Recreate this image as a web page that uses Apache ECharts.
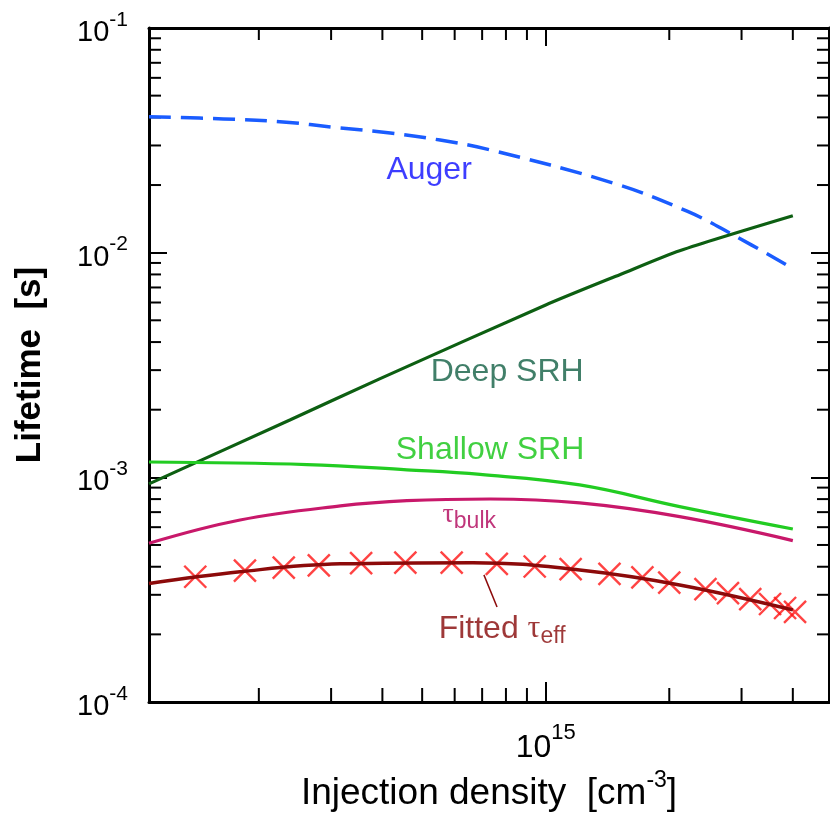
<!DOCTYPE html>
<html>
<head>
<meta charset="utf-8">
<title>Lifetime vs injection density</title>
<script src="https://cdn.jsdelivr.net/npm/echarts@6.0.0/dist/echarts.min.js"></script>
<style>
  html, body { margin: 0; padding: 0; background: #fff; }
  #chart { width: 830px; height: 817px; }
</style>
</head>
<body>
<div id="chart"></div>
<script>
// axis ranges
const X_MIN = 1.08e14, X_MAX = 4.9e15;
const Y_MIN = 1e-4, Y_MAX = 1e-1;

// minor tick values (drawn through the axis scales)
const xMinorTicks = [2e14, 3e14, 4e14, 5e14, 6e14, 7e14, 8e14, 9e14, 2e15, 3e15, 4e15];
const yMinorTicks = [
  2e-4, 3e-4, 4e-4, 5e-4, 6e-4, 7e-4, 8e-4, 9e-4,
  2e-3, 3e-3, 4e-3, 5e-3, 6e-3, 7e-3, 8e-3, 9e-3,
  2e-2, 3e-2, 4e-2, 5e-2, 6e-2, 7e-2, 8e-2, 9e-2
];

// curves
const augerX = [1.08e14, 1.64e14, 2.25e14, 3.16e14, 4.18e14, 5.53e14, 7.19e14, 1.46e15, 2.21e15, 2.84e15, 4.0e15];
const augerY = [4.03e-2, 3.94e-2, 3.83e-2, 3.59e-2, 3.41e-2, 3.17e-2, 2.89e-2, 2.04e-2, 1.53e-2, 1.21e-2, 8.5e-3];

const deepX = [1.08e14, 2.38e14, 3.95e14, 1.0e15, 1.52e15, 2.12e15, 4.0e15];
const deepY = [9.35e-4, 1.80e-3, 2.75e-3, 5.85e-3, 8.0e-3, 1.02e-2, 1.46e-2];

const shallowX = [1.08e14, 2.62e14, 4.59e14, 6.92e14, 1.21e15, 2.12e15, 4.0e15];
const shallowY = [1.17e-3, 1.14e-3, 1.08e-3, 1.03e-3, 9.25e-4, 7.41e-4, 5.89e-4];

const bulkX = [1.08e14, 1.80e14, 3.16e14, 4.59e14, 7.32e14, 1.21e15, 2.12e15, 4.0e15];
const bulkY = [5.09e-4, 6.46e-4, 7.46e-4, 7.87e-4, 8.01e-4, 7.69e-4, 6.68e-4, 5.23e-4];

const fitX = [1.08e14, 1.80e14, 3.16e14, 6.65e14, 1.21e15, 2.12e15, 4.0e15];
const fitY = [3.37e-4, 3.80e-4, 4.12e-4, 4.17e-4, 3.87e-4, 3.32e-4, 2.57e-4];

// measured points (red crosses)
const measX = [1.40e14, 1.85e14, 2.30e14, 2.80e14, 3.55e14, 4.55e14, 5.90e14, 7.60e14, 9.40e14,
  1.15e15, 1.43e15, 1.72e15, 2.00e15, 2.45e15, 2.78e15, 3.15e15, 3.52e15, 3.83e15, 4.05e15];
const measY = [3.61e-4, 3.84e-4, 3.96e-4, 4.06e-4, 4.15e-4, 4.17e-4, 4.17e-4, 4.12e-4, 4.01e-4,
  3.90e-4, 3.72e-4, 3.59e-4, 3.40e-4, 3.18e-4, 3.05e-4, 2.87e-4, 2.73e-4, 2.62e-4, 2.52e-4];

// leader line from the fitted curve to its label
const leaderX = [7.07e14, 7.61e14];
const leaderY = [3.68e-4, 2.65e-4];

// annotation anchors (left edge, vertical middle)
const annoText = ['Auger', 'Deep SRH', 'Shallow SRH', '{t|τ}{s|bulk}', '{a|Fitted }{t|τ}{s|eff}'];
const annoX = [4.08e14, 5.23e14, 4.30e14, 5.59e14, 5.47e14];
const annoY = [2.33e-2, 2.94e-3, 1.324e-3, 6.80e-4, 2.12e-4];

const FONT = '"Liberation Sans", Arial, sans-serif';
const SERIF = '"Liberation Serif", "Times New Roman", serif';

const pairs = (xs, ys) => xs.map((x, i) => [x, ys[i]]);

function powLabel(v) {
  const e = Math.log10(v);
  const r = Math.round(e);
  return Math.abs(e - r) < 1e-6 ? '{b|10}{s|' + r + '}' : '';
}

const chart = echarts.init(document.getElementById('chart'), null, { renderer: 'canvas' });

const frameLine = { show: true, onZero: false, lineStyle: { color: '#000', width: 3 } };

const annoStyles = [
  { color: '#0c0cff', fontSize: 32, fontFamily: FONT },
  { color: '#125f44', fontSize: 32, fontFamily: FONT },
  { color: '#12c412', fontSize: 32, fontFamily: FONT },
  { color: '#b0045a', fontFamily: FONT, rich: {
      t: { fontSize: 28, fontFamily: SERIF, color: '#b0045a' },
      s: { fontSize: 23, fontFamily: FONT, color: '#b0045a', padding: [14, 0, 0, 0] } } },
  { color: '#860606', fontFamily: FONT, rich: {
      a: { fontSize: 32, fontFamily: FONT, color: '#860606' },
      t: { fontSize: 32, fontFamily: SERIF, color: '#860606' },
      s: { fontSize: 23, fontFamily: FONT, color: '#860606', padding: [16, 0, 0, 0] } } }
];

const option = {
  animation: false,
  backgroundColor: '#fff',
  grid: { left: 149, right: 1, top: 28, bottom: 115, containLabel: false },
  xAxis: [
    {
      type: 'log', logBase: 10, min: X_MIN, max: X_MAX, position: 'bottom',
      axisLine: frameLine,
      axisTick: { show: true, inside: true, length: 20, lineStyle: { color: '#000', width: 2 } },
      axisLabel: {
        show: true, margin: 20, formatter: powLabel, showMinLabel: false, showMaxLabel: false,
        rich: {
          b: { fontSize: 32, fontFamily: FONT, color: '#000' },
          s: { fontSize: 22, fontFamily: FONT, color: '#000', padding: [0, 0, 30, 0] }
        }
      },
      splitLine: { show: false },
      name: '{t|Injection density  [cm}{s|-3}{t|]}',
      nameLocation: 'middle', nameGap: 58,
      nameTextStyle: {
        rich: {
          t: { fontSize: 37, fontFamily: FONT, color: '#000' },
          s: { fontSize: 23, fontFamily: FONT, color: '#000', padding: [0, 0, 26, 0] }
        }
      }
    },
    {
      type: 'log', logBase: 10, min: X_MIN, max: X_MAX, position: 'top',
      axisLine: frameLine,
      axisTick: { show: true, inside: true, length: 18, lineStyle: { color: '#000', width: 2 } },
      axisLabel: { show: false },
      splitLine: { show: false }
    }
  ],
  yAxis: [
    {
      type: 'log', logBase: 10, min: Y_MIN, max: Y_MAX, position: 'left',
      axisLine: frameLine,
      axisTick: { show: true, inside: true, length: 18, lineStyle: { color: '#000', width: 2 } },
      axisLabel: {
        show: true, margin: 21, formatter: powLabel, padding: [10, 0, 0, 0],
        rich: {
          b: { fontSize: 29, fontFamily: FONT, color: '#000' },
          s: { fontSize: 21, fontFamily: FONT, color: '#000', padding: [0, 0, 26, 0] }
        }
      },
      splitLine: { show: false },
      name: 'Lifetime  [s]',
      nameLocation: 'middle', nameGap: 101, nameRotate: 90,
      nameTextStyle: { fontSize: 35, fontWeight: 'bold', fontFamily: FONT, color: '#000' }
    },
    {
      type: 'log', logBase: 10, min: Y_MIN, max: Y_MAX, position: 'right',
      axisLine: frameLine,
      axisTick: { show: true, inside: true, length: 18, lineStyle: { color: '#000', width: 2 } },
      axisLabel: { show: false },
      splitLine: { show: false }
    }
  ],
  series: [
    {
      name: 'Auger', type: 'line', data: pairs(augerX, augerY),
      showSymbol: false, smooth: 0.4, silent: true,
      lineStyle: { color: '#1a5cff', width: 3.5, type: [22, 10] }
    },
    {
      name: 'Deep SRH', type: 'line', data: pairs(deepX, deepY),
      showSymbol: false, smooth: 0.25, silent: true,
      lineStyle: { color: '#0d5f12', width: 3.2 }
    },
    {
      name: 'Shallow SRH', type: 'line', data: pairs(shallowX, shallowY),
      showSymbol: false, smooth: 0.4, silent: true,
      lineStyle: { color: '#22cc22', width: 3.2 }
    },
    {
      name: 'tau bulk', type: 'line', data: pairs(bulkX, bulkY),
      showSymbol: false, smooth: 0.4, silent: true,
      lineStyle: { color: '#c8186a', width: 3.2 }
    },
    {
      name: 'measured', type: 'scatter', data: pairs(measX, measY),
      symbol: 'path://M0,0L20,20M20,0L0,20', symbolSize: 22, silent: true,
      itemStyle: { color: 'rgba(0,0,0,0)', borderColor: '#ff1414', borderWidth: 2.4 }
    },
    {
      name: 'Fitted tau eff', type: 'line', data: pairs(fitX, fitY),
      showSymbol: false, smooth: 0.4, silent: true,
      lineStyle: { color: '#8c0a0a', width: 3.5 }
    },
    {
      name: 'leader', type: 'line', data: pairs(leaderX, leaderY),
      showSymbol: false, silent: true,
      lineStyle: { color: '#8c0a0a', width: 1.5 }
    },
    {
      name: 'annotations', type: 'scatter', symbolSize: 1, silent: true,
      itemStyle: { color: 'rgba(0,0,0,0)' },
      label: { show: true, position: 'right', distance: 0 },
      data: annoText.map((t, i) => ({
        value: [annoX[i], annoY[i]],
        label: Object.assign({ show: true, position: 'right', distance: 0, formatter: t }, annoStyles[i])
      }))
    },
    {
      name: 'x minor ticks', type: 'custom', silent: true, clip: false,
      data: xMinorTicks.map(v => [v, 1e-3]),
      renderItem: function (params, api) {
        const cs = params.coordSys;
        const px = api.coord([api.value(0), api.value(1)])[0];
        const st = { stroke: '#000', lineWidth: 2 };
        const bottom = cs.y + cs.height;
        return {
          type: 'group',
          children: [
            { type: 'line', shape: { x1: px, y1: bottom, x2: px, y2: bottom - 14 }, style: st },
            { type: 'line', shape: { x1: px, y1: cs.y, x2: px, y2: cs.y + 12 }, style: st }
          ]
        };
      }
    },
    {
      name: 'y minor ticks', type: 'custom', silent: true, clip: false,
      data: yMinorTicks.map(v => [1e15, v]),
      renderItem: function (params, api) {
        const cs = params.coordSys;
        const py = api.coord([api.value(0), api.value(1)])[1];
        const st = { stroke: '#000', lineWidth: 2 };
        const right = cs.x + cs.width;
        return {
          type: 'group',
          children: [
            { type: 'line', shape: { x1: cs.x, y1: py, x2: cs.x + 12, y2: py }, style: st },
            { type: 'line', shape: { x1: right - 12, y1: py, x2: right, y2: py }, style: st }
          ]
        };
      }
    }
  ]
};

chart.setOption(option);
</script>
</body>
</html>
